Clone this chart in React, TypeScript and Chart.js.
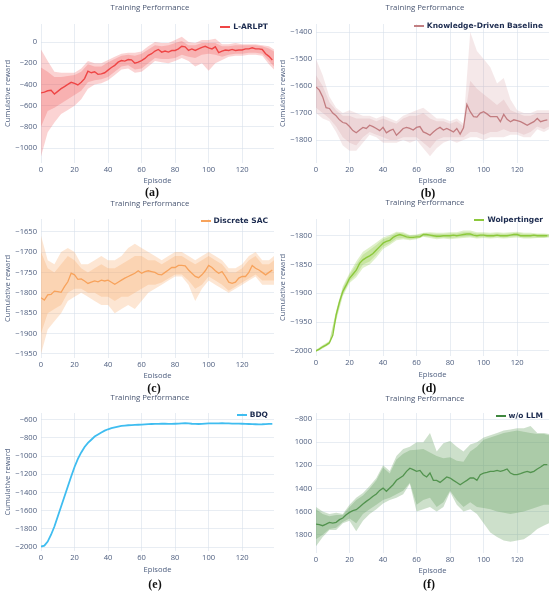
import { useEffect, useRef } from 'react';
import Chart from 'chart.js/auto';

const MEAN_EPISODES = [
  0, 2, 4, 6, 8, 10, 12, 14, 16, 18, 20, 22, 24, 26, 28, 30, 32, 34, 36, 38,
  40, 42, 44, 46, 48, 50, 52, 54, 56, 58, 60, 62, 64, 66, 68, 70, 72, 74, 76, 78,
  80, 82, 84, 86, 88, 90, 92, 94, 96, 98, 100, 102, 104, 106, 108, 110, 112, 114, 116, 118,
  120, 122, 124, 126, 128, 130, 132, 134, 136, 138,
];
const BAND_EPISODES = [
  0, 4, 8, 12, 16, 20, 24, 28, 32, 36, 40, 44, 48, 52, 56, 60, 64, 68, 72, 76,
  80, 84, 88, 92, 96, 100, 104, 108, 112, 116, 120, 124, 128, 132, 136, 139,
];
const X_TICKS = [0, 20, 40, 60, 80, 100, 120];

// (a) L-ARLPT
const A_TICKS = [0, -200, -400, -600, -800, -1000];
const A_MEAN = [
  -480, -472, -460, -455, -490, -465, -440, -420, -400, -380,
  -390, -405, -380, -345, -275, -290, -280, -305, -300, -290,
  -265, -240, -220, -190, -175, -180, -165, -168, -200, -190,
  -175, -155, -125, -110, -85, -70, -95, -85, -95, -80,
  -80, -65, -40, -45, -80, -65, -80, -65, -50, -40,
  -55, -65, -45, -100, -85, -75, -80, -70, -80, -75,
  -75, -65, -65, -55, -65, -65, -70, -110, -135, -170,
];
const A_OUT_HI = [-70, -180, -280, -290, -290, -290, -250, -180, -200, -200, -170, -140, -110, -100, -100, -90, -40, 0, -10, -10, 20, 50, 0, -10, 20, 20, 30, -20, -20, -10, -20, -20, -20, -30, -40, -70];
const A_IN_HI = [-240, -280, -330, -330, -320, -310, -280, -210, -230, -230, -190, -160, -130, -120, -130, -110, -70, -30, -40, -30, -10, 10, -30, -30, -10, -10, -10, -40, -40, -30, -30, -30, -30, -40, -60, -90];
const A_IN_LO = [-800, -650, -620, -580, -540, -500, -460, -380, -360, -350, -330, -280, -230, -220, -260, -250, -200, -150, -160, -160, -150, -120, -140, -150, -120, -110, -120, -140, -120, -110, -110, -100, -100, -110, -180, -230];
const A_OUT_LO = [-1080, -850, -760, -680, -640, -600, -540, -440, -400, -390, -360, -310, -260, -250, -290, -280, -230, -180, -190, -200, -180, -150, -180, -230, -200, -270, -200, -170, -140, -130, -130, -120, -120, -130, -210, -260];

// (b) Knowledge-Driven Baseline
const B_TICKS = [-1400, -1500, -1600, -1700, -1800];
const B_MEAN = [
  -1603, -1615, -1640, -1680, -1683, -1700, -1710, -1725, -1735, -1738,
  -1750, -1765, -1773, -1763, -1753, -1757, -1745, -1750, -1757, -1765,
  -1753, -1773, -1765, -1760, -1782, -1770, -1757, -1753, -1757, -1763,
  -1753, -1750, -1770, -1775, -1782, -1770, -1760, -1753, -1763, -1757,
  -1763, -1770, -1757, -1778, -1755, -1668, -1695, -1713, -1715, -1700,
  -1695, -1703, -1713, -1713, -1713, -1732, -1705, -1723, -1732, -1725,
  -1728, -1732, -1738, -1745, -1738, -1732, -1720, -1732, -1728, -1725,
];
const B_OUT_HI = [-1500, -1560, -1640, -1680, -1700, -1690, -1700, -1710, -1710, -1720, -1710, -1720, -1730, -1710, -1700, -1690, -1680, -1700, -1720, -1720, -1730, -1720, -1740, -1400, -1470, -1500, -1530, -1590, -1570, -1650, -1690, -1700, -1700, -1690, -1690, -1690];
const B_IN_HI = [-1560, -1600, -1660, -1690, -1710, -1710, -1720, -1720, -1720, -1730, -1720, -1730, -1740, -1720, -1710, -1710, -1700, -1720, -1730, -1730, -1740, -1730, -1750, -1580, -1610, -1630, -1650, -1670, -1650, -1690, -1700, -1710, -1710, -1700, -1700, -1700];
const B_IN_LO = [-1680, -1700, -1720, -1750, -1790, -1810, -1820, -1790, -1770, -1780, -1790, -1800, -1800, -1790, -1790, -1790, -1810, -1830, -1800, -1790, -1790, -1790, -1790, -1770, -1770, -1780, -1770, -1770, -1760, -1770, -1770, -1780, -1770, -1750, -1760, -1750];
const B_OUT_LO = [-1700, -1720, -1730, -1770, -1820, -1840, -1840, -1810, -1780, -1790, -1810, -1810, -1810, -1800, -1810, -1800, -1830, -1860, -1830, -1810, -1800, -1810, -1800, -1790, -1790, -1800, -1790, -1790, -1790, -1780, -1780, -1790, -1790, -1760, -1770, -1760];

// (c) Discrete SAC
const C_TICKS = [-1650, -1700, -1750, -1800, -1850, -1900, -1950];
const C_MEAN = [
  -1812, -1818, -1805, -1804, -1796, -1797, -1799, -1785, -1773, -1752,
  -1756, -1767, -1766, -1771, -1777, -1774, -1771, -1773, -1769, -1771,
  -1769, -1774, -1779, -1774, -1769, -1764, -1760, -1756, -1752, -1746,
  -1752, -1748, -1746, -1748, -1750, -1755, -1756, -1750, -1744, -1738,
  -1738, -1733, -1733, -1734, -1744, -1752, -1760, -1763, -1756, -1746,
  -1733, -1738, -1746, -1752, -1748, -1760, -1774, -1777, -1774, -1764,
  -1760, -1760, -1750, -1733, -1740, -1744, -1750, -1756, -1750, -1744,
];
const C_OUT_HI = [-1660, -1720, -1730, -1700, -1690, -1700, -1730, -1730, -1720, -1710, -1720, -1720, -1710, -1690, -1680, -1690, -1700, -1710, -1720, -1710, -1700, -1700, -1710, -1720, -1710, -1700, -1710, -1720, -1740, -1740, -1730, -1710, -1700, -1720, -1720, -1710];
const C_IN_HI = [-1700, -1740, -1750, -1730, -1710, -1720, -1740, -1750, -1740, -1730, -1740, -1740, -1730, -1720, -1710, -1710, -1720, -1720, -1730, -1720, -1710, -1710, -1720, -1730, -1720, -1710, -1720, -1730, -1750, -1750, -1740, -1720, -1710, -1730, -1730, -1720];
const C_IN_LO = [-1900, -1850, -1840, -1830, -1800, -1790, -1790, -1800, -1800, -1810, -1810, -1820, -1810, -1810, -1800, -1790, -1780, -1780, -1775, -1765, -1755, -1755, -1770, -1790, -1780, -1760, -1770, -1780, -1795, -1785, -1775, -1765, -1755, -1770, -1770, -1770];
const C_OUT_LO = [-1950, -1890, -1870, -1850, -1820, -1810, -1800, -1810, -1820, -1830, -1830, -1850, -1840, -1830, -1840, -1820, -1800, -1790, -1780, -1770, -1760, -1760, -1780, -1820, -1790, -1770, -1780, -1790, -1800, -1790, -1780, -1770, -1760, -1780, -1780, -1780];

// (d) Wolpertinger
const D_TICKS = [-1800, -1850, -1900, -1950, -2000];
const D_MEAN = [
  -2000, -1997, -1993, -1990, -1986, -1973, -1938, -1915, -1897, -1886,
  -1874, -1867, -1860, -1848, -1842, -1838, -1835, -1831, -1825, -1819,
  -1813, -1810, -1808, -1803, -1800, -1798, -1800, -1802, -1803, -1803,
  -1802, -1802, -1798, -1798, -1799, -1800, -1801, -1801, -1800, -1800,
  -1800, -1799, -1800, -1799, -1798, -1797, -1797, -1799, -1800, -1799,
  -1799, -1800, -1800, -1800, -1799, -1800, -1800, -1800, -1799, -1798,
  -1798, -1800, -1800, -1800, -1800, -1799, -1800, -1800, -1800, -1800,
];
const D_OUT_HI = [-1998, -1990, -1983, -1930, -1888, -1865, -1845, -1828, -1820, -1812, -1803, -1799, -1793, -1794, -1799, -1798, -1795, -1794, -1795, -1795, -1794, -1794, -1791, -1791, -1794, -1794, -1795, -1794, -1795, -1794, -1793, -1795, -1795, -1796, -1796, -1797];
const D_IN_HI = [-1999, -1991, -1984, -1933, -1891, -1868, -1850, -1833, -1825, -1816, -1806, -1802, -1795, -1796, -1800, -1799, -1796, -1796, -1797, -1797, -1796, -1796, -1794, -1794, -1796, -1796, -1797, -1796, -1797, -1796, -1795, -1797, -1797, -1797, -1797, -1798];
const D_IN_LO = [-2001, -1995, -1988, -1944, -1902, -1879, -1868, -1850, -1845, -1833, -1819, -1813, -1805, -1804, -1806, -1805, -1801, -1802, -1804, -1803, -1804, -1803, -1802, -1801, -1803, -1802, -1803, -1802, -1803, -1802, -1801, -1803, -1803, -1803, -1803, -1802];
const D_OUT_LO = [-2002, -1996, -1989, -1948, -1905, -1882, -1872, -1856, -1850, -1838, -1823, -1816, -1808, -1806, -1808, -1806, -1802, -1804, -1806, -1805, -1806, -1805, -1804, -1803, -1805, -1804, -1805, -1804, -1805, -1804, -1803, -1805, -1805, -1804, -1804, -1803];

// (e) BDQ
const E_TICKS = [-600, -800, -1000, -1200, -1400, -1600, -1800, -2000];
const E_MEAN = [
  -1995, -1985, -1940, -1865, -1775, -1665, -1555, -1445, -1335, -1225,
  -1120, -1030, -960, -900, -855, -820, -785, -762, -740, -720,
  -705, -693, -683, -675, -668, -664, -661, -659, -657, -655,
  -653, -651, -649, -647, -646, -645, -644, -644, -645, -645,
  -644, -643, -640, -638, -641, -644, -646, -647, -645, -642,
  -640, -640, -641, -640, -639, -640, -641, -642, -643, -643,
  -644, -645, -647, -649, -650, -651, -650, -648, -646, -645,
];

// (f) w/o LLM
const F_TICKS = [-800, -1000, -1200, -1400, -1600, -1800];
const F_MEAN = [
  -1708, -1713, -1722, -1708, -1693, -1700, -1693, -1670, -1656, -1627,
  -1607, -1592, -1584, -1561, -1535, -1512, -1492, -1468, -1448, -1417,
  -1397, -1425, -1397, -1368, -1330, -1310, -1290, -1252, -1225, -1238,
  -1252, -1244, -1281, -1301, -1267, -1330, -1330, -1348, -1324, -1301,
  -1310, -1330, -1348, -1368, -1348, -1330, -1310, -1310, -1330, -1281,
  -1267, -1262, -1252, -1252, -1244, -1252, -1244, -1232, -1267, -1281,
  -1281, -1272, -1262, -1252, -1262, -1252, -1232, -1215, -1195, -1195,
];
const F_OUT_HI = [-1560, -1600, -1620, -1610, -1620, -1540, -1480, -1440, -1380, -1310, -1200, -1250, -1120, -1060, -1040, -1000, -1000, -920, -1080, -1010, -990, -1040, -1080, -1020, -1000, -960, -940, -920, -900, -890, -880, -880, -860, -920, -920, -930];
const F_IN_HI = [-1580, -1620, -1640, -1630, -1630, -1560, -1500, -1460, -1400, -1330, -1220, -1270, -1150, -1100, -1070, -1065, -1060, -1090, -1120, -1140, -1130, -1160, -1170, -1080, -1040, -980, -960, -940, -920, -910, -900, -910, -920, -930, -930, -940];
const F_IN_LO = [-1840, -1800, -1750, -1740, -1690, -1660, -1700, -1620, -1580, -1540, -1500, -1480, -1450, -1420, -1350, -1540, -1500, -1480, -1560, -1520, -1420, -1500, -1560, -1520, -1560, -1570, -1580, -1600, -1610, -1620, -1610, -1600, -1580, -1560, -1540, -1540];
const F_OUT_LO = [-1900, -1820, -1760, -1760, -1700, -1680, -1770, -1680, -1620, -1580, -1530, -1500, -1480, -1450, -1360, -1600, -1580, -1560, -1600, -1560, -1430, -1540, -1600, -1580, -1620, -1700, -1780, -1820, -1850, -1860, -1850, -1840, -1800, -1750, -1720, -1700];

const TICK_COLOR = '#506080';
const GRID_COLOR = 'rgba(214,222,234,0.55)';
const SANS = '"Open Sans", "DejaVu Sans", sans-serif';
const FS = 7.6;

interface Bands {
  outHi: number[];
  inHi: number[];
  inLo: number[];
  outLo: number[];
}

interface PanelSpec {
  caption: string;
  label: string;
  left: number;
  top: number;
  height: number;
  line: string;
  fill: string;
  lineWidth: number;
  mean: number[];
  bands?: Bands;
  yTicks: number[];
  yMin: number;
  yMax: number;
  chartTop: number;
  chartBottom: number;
  episodeY: number;
  titleY: number;
  legendY: number;
  captionY: number;
  captionX: number;
  yTitle: boolean;
  dropMinus?: boolean;
  mask?: boolean;
}

const PANELS: PanelSpec[] = [
  {
    caption: '(a)', label: 'L-ARLPT', left: 0, top: 0, height: 195,
    line: '#ef4545', fill: 'rgba(239,69,69,0.24)', lineWidth: 1.4,
    mean: A_MEAN, bands: { outHi: A_OUT_HI, inHi: A_IN_HI, inLo: A_IN_LO, outLo: A_OUT_LO },
    yTicks: A_TICKS, yMin: -1141, yMax: 170, chartTop: 24, chartBottom: 163, episodeY: 181,
    titleY: 7, legendY: 27, captionY: 192, captionX: 152, yTitle: true,
  },
  {
    caption: '(b)', label: 'Knowledge-Driven Baseline', left: 275, top: 0, height: 195,
    line: '#c27f82', fill: 'rgba(196,120,122,0.17)', lineWidth: 1.3,
    mean: B_MEAN, bands: { outHi: B_OUT_HI, inHi: B_IN_HI, inLo: B_IN_LO, outLo: B_OUT_LO },
    yTicks: B_TICKS, yMin: -1885, yMax: -1370, chartTop: 24, chartBottom: 163, episodeY: 181,
    titleY: 7, legendY: 26, captionY: 193, captionX: 153, yTitle: true,
  },
  {
    caption: '(c)', label: 'Discrete SAC', left: 0, top: 195, height: 198,
    line: '#f7a35c', fill: 'rgba(248,163,92,0.27)', lineWidth: 1.3,
    mean: C_MEAN, bands: { outHi: C_OUT_HI, inHi: C_IN_HI, inLo: C_IN_LO, outLo: C_OUT_LO },
    yTicks: C_TICKS, yMin: -1960, yMax: -1619, chartTop: 24, chartBottom: 163, episodeY: 181,
    titleY: 8, legendY: 26, captionY: 193, captionX: 154, yTitle: true, mask: true,
  },
  {
    caption: '(d)', label: 'Wolpertinger', left: 275, top: 195, height: 198,
    line: '#8cc83c', fill: 'rgba(140,200,60,0.28)', lineWidth: 1.4,
    mean: D_MEAN, bands: { outHi: D_OUT_HI, inHi: D_IN_HI, inLo: D_IN_LO, outLo: D_OUT_LO },
    yTicks: D_TICKS, yMin: -2009, yMax: -1771, chartTop: 24, chartBottom: 161, episodeY: 180,
    titleY: 7, legendY: 25, captionY: 193, captionX: 154, yTitle: true,
  },
  {
    caption: '(e)', label: 'BDQ', left: 0, top: 393, height: 200,
    line: '#3fbdf0', fill: 'rgba(63,189,240,0.2)', lineWidth: 1.8,
    mean: E_MEAN,
    yTicks: E_TICKS, yMin: -2044, yMax: -526, chartTop: 20, chartBottom: 158, episodeY: 177,
    titleY: 4, legendY: 22, captionY: 191, captionX: 155, yTitle: true,
  },
  {
    caption: '(f)', label: 'w/o LLM', left: 275, top: 393, height: 200,
    line: '#3f873f', fill: 'rgba(100,158,92,0.32)', lineWidth: 1.3,
    mean: F_MEAN, bands: { outHi: F_OUT_HI, inHi: F_IN_HI, inLo: F_IN_LO, outLo: F_OUT_LO },
    yTicks: F_TICKS, yMin: -1958, yMax: -748, chartTop: 20, chartBottom: 160, episodeY: 178,
    titleY: 5, legendY: 23, captionY: 191, captionX: 154, yTitle: false, dropMinus: true,
  },
];

const Panel = ({ spec }: { spec: PanelSpec }) => {
  const canvasRef = useRef<HTMLCanvasElement | null>(null);
  const chartRef = useRef<Chart | null>(null);

  useEffect(() => {
    if (!canvasRef.current) return;
    const ctx = canvasRef.current.getContext('2d');
    if (!ctx) return;
    if (chartRef.current) chartRef.current.destroy();

    const bandPoints = (ys: number[]) => BAND_EPISODES.map((x, i) => ({ x, y: ys[i] }));
    const band = (ys: number[], fill: string | boolean) => ({
      data: bandPoints(ys),
      fill,
      backgroundColor: spec.fill,
      borderColor: 'transparent',
      borderWidth: 0,
      pointRadius: 0,
    });

    const datasets: any[] = [];
    if (spec.bands) {
      datasets.push(
        band(spec.bands.outHi, '+1'),
        band(spec.bands.outLo, false),
        band(spec.bands.inHi, '+1'),
        band(spec.bands.inLo, false),
      );
    }
    datasets.push({
      label: spec.label,
      data: MEAN_EPISODES.map((x, i) => ({ x, y: spec.mean[i] })),
      borderColor: spec.line,
      borderWidth: spec.lineWidth,
      pointRadius: 0,
      fill: false,
    });

    const xAxisHeight = spec.episodeY - spec.chartBottom + (FS * 1.2) / 2;
    const font = { family: SANS, size: FS };

    chartRef.current = new Chart(ctx, {
      type: 'line',
      data: { datasets },
      options: {
        animation: false,
        responsive: true,
        maintainAspectRatio: false,
        events: [],
        layout: {
          padding: {
            left: 0,
            right: 1,
            top: spec.chartTop,
            bottom: spec.height - spec.chartBottom - xAxisHeight,
          },
        },
        plugins: {
          legend: { display: false },
          title: { display: false },
          tooltip: { enabled: false },
        },
        scales: {
          x: {
            type: 'linear',
            min: 0,
            max: 139,
            grid: { color: GRID_COLOR, drawTicks: false },
            border: { display: false },
            afterBuildTicks: (scale: any) => {
              scale.ticks = X_TICKS.map((value) => ({ value }));
            },
            ticks: {
              padding: 2.5,
              color: TICK_COLOR,
              font,
              maxRotation: 0,
              autoSkip: false,
              callback: (v: any) => String(v),
            },
            title: { display: true, text: 'Episode', color: TICK_COLOR, font, padding: 0 },
            afterFit: (scale: any) => {
              scale.height = xAxisHeight;
            },
          },
          y: {
            min: spec.yMin,
            max: spec.yMax,
            grid: { color: GRID_COLOR, drawTicks: false },
            border: { display: false },
            afterBuildTicks: (scale: any) => {
              scale.ticks = spec.yTicks.map((value) => ({ value }));
            },
            ticks: {
              padding: 4,
              color: TICK_COLOR,
              font,
              autoSkip: false,
              callback: (v: any) => {
                const n = Number(v);
                if (spec.dropMinus && n <= -1000) return String(-n);
                return n < 0 ? '\u2212' + Math.abs(n) : String(n);
              },
            },
            title: {
              display: spec.yTitle,
              text: 'Cumulative reward',
              color: TICK_COLOR,
              font,
              padding: { top: 3.7, bottom: 0 },
            },
            afterFit: (scale: any) => {
              scale.width = 41;
            },
          },
        },
      },
    });

    return () => {
      if (chartRef.current) {
        chartRef.current.destroy();
        chartRef.current = null;
      }
    };
  }, [spec]);

  return (
    <div style={{ position: 'absolute', left: spec.left, top: spec.top, width: 275, height: spec.height }}>
      <div style={{ position: 'absolute', left: 0, top: 0, width: 275, height: spec.height }}>
        <canvas ref={canvasRef} />
      </div>
      <div
        style={{
          position: 'absolute', left: 50, width: 200, top: spec.titleY - 6, height: 12, lineHeight: '12px',
          textAlign: 'center', fontFamily: SANS, fontSize: 7.8, color: '#4a5773', whiteSpace: 'nowrap',
        }}
      >
        Training Performance
      </div>
      <div
        style={{
          position: 'absolute', right: 7, top: spec.legendY - 6, height: 12, display: 'flex', alignItems: 'center',
          whiteSpace: 'nowrap',
        }}
      >
        <span style={{ display: 'inline-block', width: 10, height: 2, background: spec.line, marginRight: 3 }} />
        <span style={{ fontFamily: '"DejaVu Sans", sans-serif', fontWeight: 'bold', fontSize: 7.5, color: '#1c2b4f', lineHeight: '12px' }}>
          {spec.label}
        </span>
      </div>
      {spec.mask && (
        <div style={{ position: 'absolute', left: 0, top: 183, width: 275, height: spec.height - 183, background: '#fff' }} />
      )}
      <div
        style={{
          position: 'absolute', left: spec.captionX - 30, width: 60, top: spec.captionY - 7, height: 14, lineHeight: '14px',
          textAlign: 'center', fontFamily: '"Liberation Serif", serif', fontWeight: 'bold', fontSize: 12, color: '#111',
        }}
      >
        {spec.caption}
      </div>
    </div>
  );
};

export default function App() {
  return (
    <div style={{ position: 'fixed', left: 0, top: 0, width: 550, height: 593, background: '#fff', overflow: 'hidden' }}>
      {PANELS.map((p) => (
        <Panel key={p.caption} spec={p} />
      ))}
    </div>
  );
}
